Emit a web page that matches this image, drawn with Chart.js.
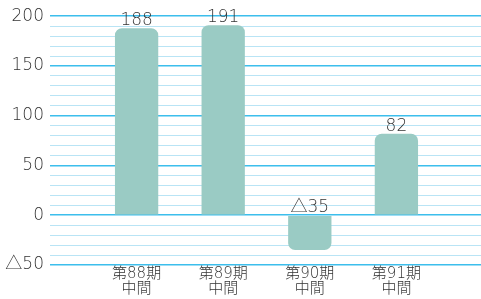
<!DOCTYPE html>
<html>
<head>
<meta charset="utf-8">
<script src="https://cdn.jsdelivr.net/npm/chart.js@4/dist/chart.umd.min.js"></script>
<style>
  html, body { margin: 0; padding: 0; background: #fff; overflow: hidden; }
  #wrap { width: 485px; height: 299px; position: relative; }
</style>
</head>
<body>
<div id="wrap"><canvas id="chart"></canvas></div>
<script>
// periods (empty slots at both ends keep the spacing of the original)
const periods = ['', ['第88期', '中間'], ['第89期', '中間'], ['第90期', '中間'], ['第91期', '中間'], ''];
const values = [null, 188, 191, -35, 82, null];
const yMin = -50;
const yMax = 200;

// negative numbers are written with a triangle
function fmt(v) {
  return v < 0 ? '△' + Math.abs(v) : String(v);
}

const FONT = '"DejaVu Sans", "Noto Sans CJK JP", sans-serif';

// draw the value above each bar (above the zero line for negatives)
const valueLabels = {
  id: 'valueLabels',
  afterDatasetsDraw(chart) {
    const ctx = chart.ctx;
    const meta = chart.getDatasetMeta(0);
    const yScale = chart.scales.y;
    ctx.save();
    ctx.font = '200 17px ' + FONT;
    ctx.fillStyle = '#333';
    ctx.textAlign = 'center';
    ctx.textBaseline = 'bottom';
    meta.data.forEach((bar, i) => {
      const v = values[i];
      if (v === null) return;
      const top = yScale.getPixelForValue(Math.max(v, 0));
      ctx.fillText(fmt(v), bar.x, top + 1);
    });
    ctx.restore();
  }
};

new Chart(document.getElementById('chart'), {
  type: 'bar',
  data: {
    labels: periods,
    datasets: [{
      data: values,
      backgroundColor: '#9acbc4',
      borderRadius: 7,
      borderSkipped: 'start',
      barPercentage: 0.5,
      categoryPercentage: 1
    }]
  },
  options: {
    responsive: true,
    maintainAspectRatio: false,
    animation: false,
    layout: { padding: { top: 8, right: 0, left: 0, bottom: 0 } },
    plugins: {
      legend: { display: false },
      tooltip: { enabled: false }
    },
    scales: {
      x: {
        offset: false,
        afterFit(scale) { scale.height = 34; },
        grid: { display: false, drawTicks: false },
        border: { display: false },
        ticks: {
          color: '#333',
          font: { family: FONT, size: 15, weight: '200', lineHeight: 1.0 },
          padding: 2,
          maxRotation: 0,
          autoSkip: false
        }
      },
      y: {
        min: yMin,
        max: yMax,
        afterFit(scale) { scale.width = 50; },
        border: { display: false },
        grid: {
          drawTicks: false,
          // every fifth line (multiples of 50) is the darker one
          color: (c) => (c.index % 5 === 0) ? 'rgb(60,190,236)' : 'rgb(185,228,245)',
          lineWidth: (c) => (c.index % 5 === 0) ? 1.5 : 1
        },
        ticks: {
          stepSize: 10,
          autoSkip: false,
          padding: 6,
          color: '#333',
          font: { family: FONT, size: 17, weight: '200' },
          callback: (v) => (Math.round(v) % 50 === 0 ? fmt(Math.round(v)) : '')
        }
      }
    }
  },
  plugins: [valueLabels]
});
</script>
</body>
</html>
